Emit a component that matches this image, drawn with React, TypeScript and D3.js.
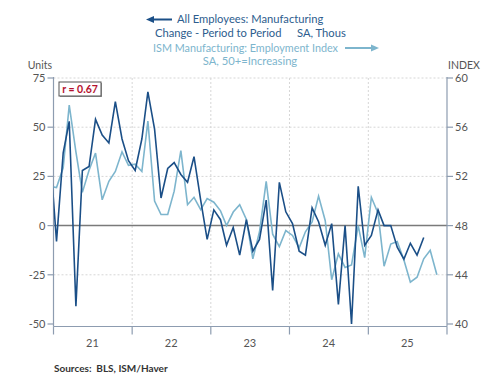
import React, { useEffect, useRef } from 'react';
import * as d3 from 'd3';

// monthly data, first point is Dec 2020 (clipped at the left edge)
const firstMonth = new Date(2020, 11, 1);

// All Employees: Manufacturing, change period to period (thous)
const mfgChange = [
  38, -8, 37, 53, -41, 28, 30, 54, 46, 42, 63, 44, 33,
  28, 44, 68, 49, 14, 29, 32, 26, 22, 35, 13, -7, 8,
  3, -10, -1, -15, 3, -13, -7, 13, -33, 22, 7, 1,
  -13, -15, 9, 2, -10, 1, -40, 0, -50, 20, -10, -5,
  8, 0, 0, -11, -17, -9, -15, -6,
];

// ISM Manufacturing: Employment Index
const ismEmployment = [
  51.2, 51.1, 52.7, 57.8, 54.0, 50.7, 52.5, 53.9, 50.1, 51.6, 52.4, 54.0, 52.9,
  53.0, 52.4, 56.5, 50.0, 48.9, 48.9, 50.8, 54.1, 49.7, 50.3, 49.3, 50.2, 49.9,
  49.2, 48.0, 49.1, 49.7, 48.5, 45.3, 47.5, 51.6, 47.3, 46.3, 47.6, 47.2,
  46.2, 47.5, 48.3, 50.4, 48.4, 43.6, 45.7, 44.6, 44.8, 48.0, 45.4, 50.3,
  49.0, 44.7, 46.5, 46.7, 45.2, 43.4, 43.8, 45.3, 46.0, 44.0,
];

const leftTicks = [-50, -25, 0, 25, 50, 75];
const rightTicks = [40, 44, 48, 52, 56, 60];
const years = [2021, 2022, 2023, 2024, 2025];
const yearLabels = ['21', '22', '23', '24', '25'];

const darkBlue = '#1b4f87';
const lightBlue = '#7db5cd';
const axisColor = '#8d9cb0';
const font = 'Lato, "Open Sans", sans-serif';

export default function App() {
  const ref = useRef<SVGSVGElement>(null);

  useEffect(() => {
    const svg = d3.select(ref.current);
    svg.selectAll('*').remove();

    const left = 53.5, right = 447, top = 78, bottom = 324, axisY = 326.5;

    const x = d3.scaleTime()
      .domain([new Date(2021, 0, 1), new Date(2026, 0, 1)])
      .range([left, right]);
    const yL = d3.scaleLinear().domain([-50, 75]).range([bottom, top]);
    const yR = d3.scaleLinear().domain([40, 60]).range([bottom, top]);

    const midMonth = (i: number) => {
      const d = d3.timeMonth.offset(firstMonth, i);
      return new Date(d.getFullYear(), d.getMonth(), 15);
    };

    // grid
    const grid = svg.append('g');
    grid.selectAll('line.h').data(leftTicks.filter(t => t !== 0 && t !== -50)).enter()
      .append('line')
      .attr('x1', left).attr('x2', right)
      .attr('y1', d => yL(d)).attr('y2', d => yL(d))
      .style('stroke', '#d6d6d6').style('stroke-dasharray', '2,2');
    grid.selectAll('line.v').data(years.slice(1)).enter()
      .append('line')
      .attr('x1', d => x(new Date(d, 0, 1))).attr('x2', d => x(new Date(d, 0, 1)))
      .attr('y1', top).attr('y2', axisY)
      .style('stroke', '#d6d6d6').style('stroke-dasharray', '2,2');

    // zero line
    svg.append('line')
      .attr('x1', left).attr('x2', right)
      .attr('y1', yL(0)).attr('y2', yL(0))
      .style('stroke', '#7a7a7a').style('stroke-width', 1.5);

    // axes
    const ax = svg.append('g').style('stroke', axisColor).style('stroke-width', 1.2);
    ax.append('line').attr('x1', left).attr('x2', left).attr('y1', top - 1).attr('y2', axisY);
    ax.append('line').attr('x1', right).attr('x2', right).attr('y1', top - 1).attr('y2', axisY);
    ax.append('line').attr('x1', left).attr('x2', right).attr('y1', axisY).attr('y2', axisY);
    ax.selectAll('line.lt').data(leftTicks).enter().append('line')
      .attr('x1', left - 6).attr('x2', left).attr('y1', d => yL(d)).attr('y2', d => yL(d));
    ax.selectAll('line.rt').data(rightTicks).enter().append('line')
      .attr('x1', right).attr('x2', right + 6).attr('y1', d => yR(d)).attr('y2', d => yR(d));
    ax.selectAll('line.xt').data([...years, 2026]).enter().append('line')
      .attr('x1', d => x(new Date(d, 0, 1))).attr('x2', d => x(new Date(d, 0, 1)))
      .attr('y1', axisY).attr('y2', axisY + 8);

    const txt = svg.append('g').style('font-family', font).style('fill', '#555').style('font-size', '11px');
    txt.selectAll('text.l').data(leftTicks).enter().append('text')
      .attr('x', left - 8).attr('y', d => yL(d) + 4).attr('text-anchor', 'end')
      .text(d => d);
    txt.selectAll('text.r').data(rightTicks).enter().append('text')
      .attr('x', right + 8).attr('y', d => yR(d) + 4)
      .text(d => d);
    txt.selectAll('text.x').data(years).enter().append('text')
      .attr('x', d => x(new Date(d, 6, 1))).attr('y', 347).attr('text-anchor', 'middle')
      .text((d, i) => yearLabels[i]);
    txt.append('text').attr('x', 52).attr('y', 69).attr('text-anchor', 'end')
      .style('font-size', '10.5px').text('Units');
    txt.append('text').attr('x', 448).attr('y', 69)
      .style('font-size', '10.5px').text('INDEX');

    // lines
    svg.append('clipPath').attr('id', 'plotclip')
      .append('rect').attr('x', left).attr('y', 0).attr('width', right - left).attr('height', 375);

    const lineL = d3.line<number>().x((d, i) => x(midMonth(i))).y(d => yL(d));
    const lineR = d3.line<number>().x((d, i) => x(midMonth(i))).y(d => yR(d));

    const lines = svg.append('g').attr('clip-path', 'url(#plotclip)');
    lines.append('path').datum(ismEmployment)
      .attr('d', lineR)
      .style('fill', 'none').style('stroke', lightBlue).style('stroke-width', 1.6);
    lines.append('path').datum(mfgChange)
      .attr('d', lineL)
      .style('fill', 'none').style('stroke', darkBlue).style('stroke-width', 1.6);

    // correlation box
    const box = svg.append('g');
    box.append('rect').attr('x', 60).attr('y', 83).attr('width', 42).attr('height', 14)
      .style('fill', '#999');
    box.append('rect').attr('x', 59).attr('y', 82).attr('width', 42).attr('height', 14)
      .style('fill', 'white').style('stroke', '#555').style('stroke-width', 1);
    box.append('text').attr('x', 80).attr('y', 93).attr('text-anchor', 'middle')
      .style('font-family', font).style('font-size', '10.5px').style('font-weight', 'bold')
      .style('fill', '#b5122f').text('r = 0.67');

    // title / legend
    const title = svg.append('g').style('font-family', font).style('font-size', '11.2px');
    title.append('text').attr('x', 177).attr('y', 23).style('fill', '#2d5d8e')
      .text('All Employees: Manufacturing');
    title.append('text').attr('x', 155).attr('y', 37).style('fill', '#2d5d8e')
      .text('Change - Period to Period');
    title.append('text').attr('x', 297).attr('y', 37).style('fill', '#2d5d8e')
      .text('SA, Thous');
    title.append('text').attr('x', 153).attr('y', 52).style('fill', lightBlue)
      .style('font-size', '10.8px')
      .text('ISM Manufacturing: Employment Index');
    title.append('text').attr('x', 250).attr('y', 65).attr('text-anchor', 'middle').style('fill', lightBlue)
      .text('SA, 50+=Increasing');

    // arrows
    title.append('line').attr('x1', 152).attr('x2', 172).attr('y1', 19.5).attr('y2', 19.5)
      .style('stroke', darkBlue).style('stroke-width', 2);
    title.append('path').attr('d', 'M146,19.5 L154,16 L154,23 Z').style('fill', darkBlue);
    title.append('line').attr('x1', 345).attr('x2', 373).attr('y1', 48).attr('y2', 48)
      .style('stroke', lightBlue).style('stroke-width', 2);
    title.append('path').attr('d', 'M379,48 L371,44.5 L371,51.5 Z').style('fill', lightBlue);

    svg.append('text').attr('x', 54).attr('y', 372)
      .style('font-family', font).style('font-size', '10px').style('font-weight', 'bold')
      .style('fill', '#333').style('white-space', 'pre').text('Sources:  BLS, ISM/Haver');
  }, []);

  return (
    <svg
      ref={ref}
      width={500}
      height={375}
      style={{ position: 'absolute', left: 0, top: 0, background: 'white' }}
    />
  );
}
